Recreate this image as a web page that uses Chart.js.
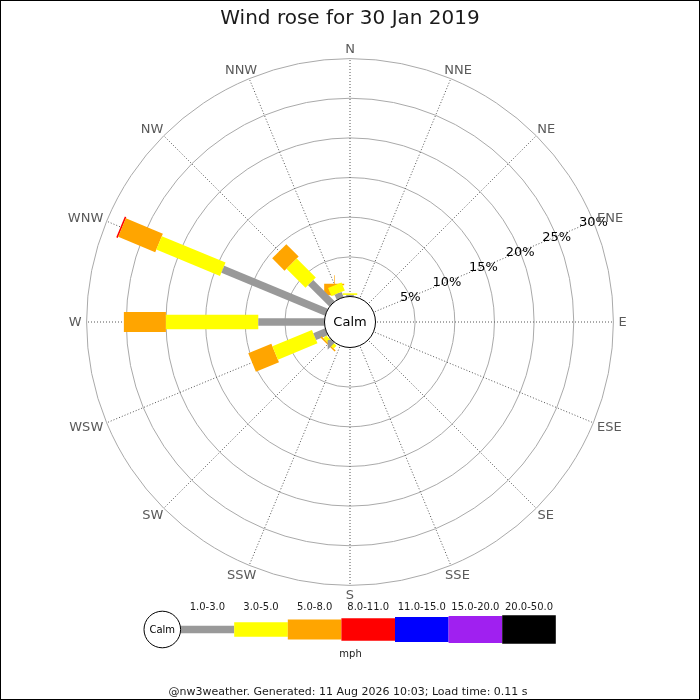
<!DOCTYPE html>
<html>
<head>
<meta charset="utf-8">
<script src="https://cdn.jsdelivr.net/npm/chart.js@4.4.1/dist/chart.umd.min.js"></script>
<style>
  html, body { margin: 0; padding: 0; background: #ffffff; }
  #wrap { width: 700px; height: 700px; position: relative; }
  canvas { display: block; }
</style>
</head>
<body>
<div id="wrap"><canvas id="rose" width="700" height="700"></canvas></div>
<script>
// ---------------- DATA ----------------
const chartTitle = 'Wind rose for 30 Jan 2019';
const directions = ['N','NNE','NE','ENE','E','ESE','SE','SSE','S','SSW','SW','WSW','W','WNW','NW','NNW'];
const speedBands = ['1.0-3.0','3.0-5.0','5.0-8.0','8.0-11.0','11.0-15.0','15.0-20.0','20.0-50.0'];
const speedUnit = 'mph';
// percentage of time per direction, per speed band
const band1to3   = [0.2, 0, 0, 0, 0, 0, 0, 0, 0, 0, 0.1, 1.6, 8.35, 14.15, 3.8, 0.7];
const band3to5   = [0.2, 0, 0, 0, 0, 0, 0, 0, 0, 0, 0.5, 5.4, 11.65, 8.7, 3.4, 1.1];
const band5to8   = [0,   0, 0, 0, 0, 0, 0, 0, 0, 0, 0.2, 3.15, 5.3, 5.05, 2.2, 0.2];
const band8to11  = [0,   0, 0, 0, 0, 0, 0, 0, 0, 0, 0,   0,    0,   0.2,  0,   0];
const band11to15 = [0,   0, 0, 0, 0, 0, 0, 0, 0, 0, 0,   0,    0,   0,    0,   0];
const band15to20 = [0,   0, 0, 0, 0, 0, 0, 0, 0, 0, 0,   0,    0,   0,    0,   0];
const band20to50 = [0,   0, 0, 0, 0, 0, 0, 0, 0, 0, 0,   0,    0,   0,    0,   0];
const ringValues = [5, 10, 15, 20, 25, 30];
const ringLabels = ['5%', '10%', '15%', '20%', '25%', '30%'];
const calmLabel = 'Calm';
const footerText = '@nw3weather. Generated: 11 Aug 2026 10:03; Load time: 0.11 s';

// ---------------- STYLE / GEOMETRY ----------------
const bandSeries = [band1to3, band3to5, band5to8, band8to11, band11to15, band15to20, band20to50];
const bandColors = ['#999999', '#ffff00', '#ffa500', '#ff0000', '#0000ff', '#a020f0', '#000000'];
const bandWidths = [7.5, 14.5, 20, 22.5, 25, 27, 28.5];
const PX_PER_PCT = 7.93;
const CX = 350, CY = 322;
const CALM_R_PX = 25.5;
const OFFSET = CALM_R_PX / PX_PER_PCT; // radial offset (in % units) for the calm circle
const W = 700, H = 700;
const FONT = '"DejaVu Sans", Verdana, sans-serif';

// build one line dataset per (direction, band) segment
const datasets = [];
directions.forEach((dir, i) => {
  const th = i * 22.5 * Math.PI / 180;
  let cum = 0;
  bandSeries.forEach((series, b) => {
    const v = series[i];
    if (v > 0) {
      const r0 = OFFSET + cum, r1 = OFFSET + cum + v;
      datasets.push({
        label: speedBands[b] + ' ' + dir,
        data: [
          { x: r0 * Math.sin(th), y: r0 * Math.cos(th) },
          { x: r1 * Math.sin(th), y: r1 * Math.cos(th) }
        ],
        showLine: true,
        borderColor: bandColors[b],
        backgroundColor: bandColors[b],
        borderWidth: bandWidths[b],
        borderCapStyle: 'butt',
        pointRadius: 0,
        pointHoverRadius: 0,
        fill: false,
        tension: 0
      });
      cum += v;
    }
  });
});

function radiusPx(chart, pct) {
  const xs = chart.scales.x;
  return xs.getPixelForValue(OFFSET + pct) - xs.getPixelForValue(0);
}

const rosePlugin = {
  id: 'rose',
  beforeDraw(chart) {
    const ctx = chart.ctx;
    ctx.save();
    ctx.fillStyle = '#ffffff';
    ctx.fillRect(0, 0, W, H);
    ctx.restore();
  },
  beforeDatasetsDraw(chart) {
    const ctx = chart.ctx;
    const cx = chart.scales.x.getPixelForValue(0);
    const cy = chart.scales.y.getPixelForValue(0);
    ctx.save();
    // rings
    ctx.strokeStyle = '#aaaaaa';
    ctx.lineWidth = 1;
    ringValues.forEach(v => {
      ctx.beginPath();
      ctx.arc(cx, cy, radiusPx(chart, v), 0, Math.PI * 2);
      ctx.stroke();
    });
    // spokes
    const rOut = radiusPx(chart, ringValues[ringValues.length - 1]);
    ctx.strokeStyle = '#555555';
    ctx.setLineDash([1, 2]);
    directions.forEach((d, i) => {
      const th = i * 22.5 * Math.PI / 180;
      ctx.beginPath();
      ctx.moveTo(cx, cy);
      ctx.lineTo(cx + rOut * Math.sin(th), cy - rOut * Math.cos(th));
      ctx.stroke();
    });
    ctx.setLineDash([]);
    ctx.restore();
  },
  afterDatasetsDraw(chart) {
    const ctx = chart.ctx;
    const cx = chart.scales.x.getPixelForValue(0);
    const cy = chart.scales.y.getPixelForValue(0);
    const calmR = radiusPx(chart, 0);
    ctx.save();
    // calm circle
    ctx.beginPath();
    ctx.arc(cx, cy, calmR, 0, Math.PI * 2);
    ctx.fillStyle = '#ffffff';
    ctx.fill();
    ctx.strokeStyle = '#000000';
    ctx.lineWidth = 1;
    ctx.stroke();
    ctx.fillStyle = '#000000';
    ctx.font = '13px ' + FONT;
    ctx.textAlign = 'center';
    ctx.textBaseline = 'middle';
    ctx.fillText(calmLabel, cx, cy + 1);

    // ring labels along ENE
    const thL = 67.5 * Math.PI / 180;
    ringValues.forEach((v, k) => {
      const r = radiusPx(chart, v);
      ctx.fillText(ringLabels[k], cx + r * Math.sin(thL), cy - r * Math.cos(thL) + 1);
    });

    // compass labels
    ctx.fillStyle = '#5a5a5a';
    const R0 = 268.5, H2 = 4.5;
    directions.forEach((d, i) => {
      const th = i * 22.5 * Math.PI / 180;
      const w = ctx.measureText(d).width;
      const s = Math.sin(th), c = Math.cos(th);
      const px = cx + R0 * s + (w / 2) * s;
      const py = cy - R0 * c - H2 * c;
      ctx.fillText(d, px, py + 1);
    });

    // title
    ctx.fillStyle = '#1a1a1a';
    ctx.font = '20px ' + FONT;
    ctx.textBaseline = 'alphabetic';
    ctx.fillText(chartTitle, W / 2, 24);

    // legend
    const lcx = 162.3, lcy = 629.5, lr = 18.3;
    const segW = 53.6;
    let x = lcx + lr;
    bandColors.forEach((col, b) => {
      ctx.fillStyle = col;
      ctx.fillRect(x, lcy - bandWidths[b] / 2, segW, bandWidths[b]);
      ctx.fillStyle = '#1a1a1a';
      ctx.font = '10px ' + FONT;
      ctx.textBaseline = 'middle';
      ctx.fillText(speedBands[b], x + segW / 2, 607.5);
      x += segW;
    });
    ctx.beginPath();
    ctx.arc(lcx, lcy, lr, 0, Math.PI * 2);
    ctx.fillStyle = '#ffffff';
    ctx.fill();
    ctx.strokeStyle = '#000000';
    ctx.stroke();
    ctx.fillStyle = '#000000';
    ctx.font = '10px ' + FONT;
    ctx.fillText(calmLabel, lcx, lcy + 1);
    ctx.fillStyle = '#1a1a1a';
    ctx.fillText(speedUnit, 350.5, 654);

    // footer
    ctx.font = '11px ' + FONT;
    ctx.fillText(footerText, 348, 692);

    // border
    ctx.strokeStyle = '#000000';
    ctx.lineWidth = 1;
    ctx.strokeRect(0.5, 0.5, W - 1, H - 1);
    ctx.restore();
  }
};

new Chart(document.getElementById('rose'), {
  type: 'scatter',
  data: { datasets },
  options: {
    responsive: false,
    devicePixelRatio: 1,
    animation: false,
    events: [],
    layout: { padding: 0 },
    scales: {
      x: { type: 'linear', display: false, bounds: 'data',
           min: -CX / PX_PER_PCT, max: (W - CX) / PX_PER_PCT },
      y: { type: 'linear', display: false, bounds: 'data',
           min: -(H - CY) / PX_PER_PCT, max: CY / PX_PER_PCT }
    },
    plugins: {
      legend: { display: false },
      tooltip: { enabled: false },
      title: { display: false }
    }
  },
  plugins: [rosePlugin]
});
</script>
</body>
</html>
